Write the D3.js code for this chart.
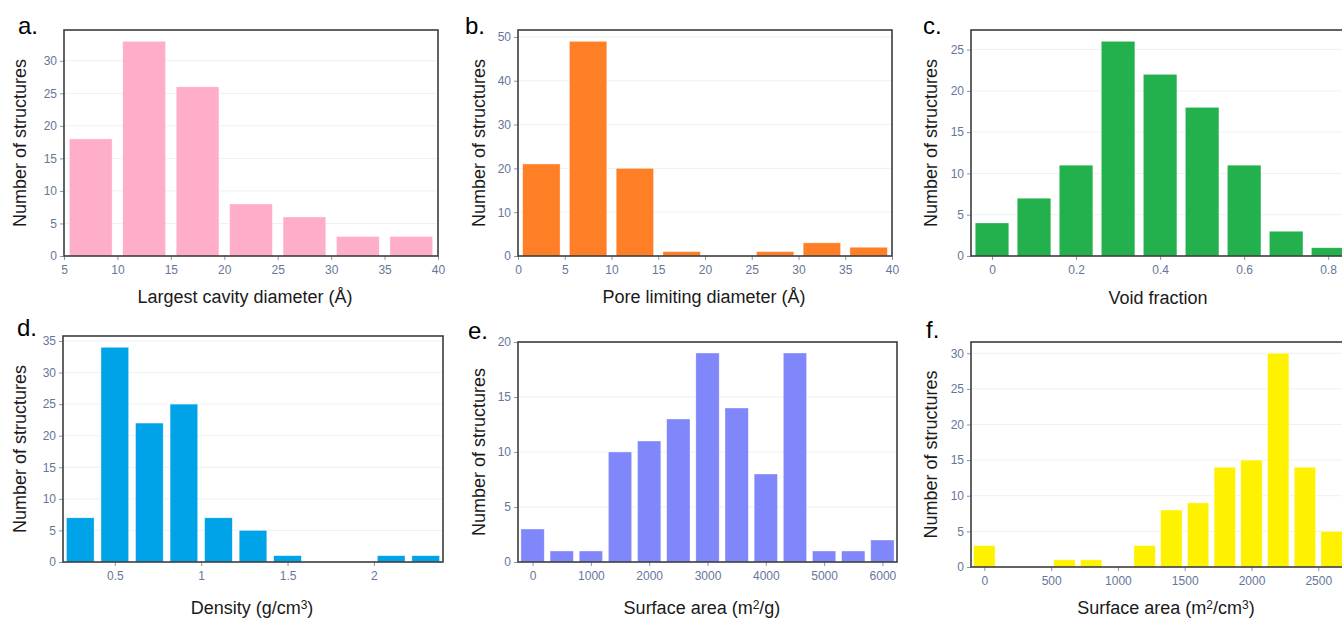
<!DOCTYPE html>
<html>
<head>
<meta charset="utf-8">
<script src="https://cdn.jsdelivr.net/npm/d3@7"></script>
<style>
  body { margin: 0; background: #fff; }
  svg { display: block; font-family: "Liberation Sans", Arial, sans-serif; }
  .tick text { fill: #66769a; font-size: 12px; }
  .tick line { stroke: #8a96aa; }
  .domain { display: none; }
</style>
</head>
<body>
<svg id="fig" width="1342" height="620"></svg>
<script>
// a. largest cavity diameter (bin width 5)
const lcdCenters = [7.5, 12.5, 17.5, 22.5, 27.5, 32.5, 37.5]
const lcdCounts = [18, 33, 26, 8, 6, 3, 3]
// b. pore limiting diameter (bin width 5)
const pldCenters = [2.5, 7.5, 12.5, 17.5, 22.5, 27.5, 32.5, 37.5]
const pldCounts = [21, 49, 20, 1, 0, 1, 3, 2]
// c. void fraction (bin width 0.1)
const vfCenters = [0, 0.1, 0.2, 0.3, 0.4, 0.5, 0.6, 0.7, 0.8]
const vfCounts = [4, 7, 11, 26, 22, 18, 11, 3, 1]
// d. density (bin width 0.2)
const densCenters = [0.3, 0.5, 0.7, 0.9, 1.1, 1.3, 1.5, 1.7, 1.9, 2.1, 2.3]
const densCounts = [7, 34, 22, 25, 7, 5, 1, 0, 0, 1, 1]
// e. gravimetric surface area (bin width 500)
const gsaCenters = [0, 500, 1000, 1500, 2000, 2500, 3000, 3500, 4000, 4500, 5000, 5500, 6000]
const gsaCounts = [3, 1, 1, 10, 11, 13, 19, 14, 8, 19, 1, 1, 2]
// f. volumetric surface area (bin width 200)
const vsaCenters = [0, 200, 400, 600, 800, 1000, 1200, 1400, 1600, 1800, 2000, 2200, 2400, 2600]
const vsaCounts = [3, 0, 0, 1, 1, 0, 3, 8, 9, 14, 15, 30, 14, 5]

const panels = [
  {label: 'a.', lx: 18, ly: 34, box: [64, 30, 438, 256], xDom: [5, 40], bin: 5,
   centers: lcdCenters, counts: lcdCounts, color: '#ffaec9',
   xTicks: [5, 10, 15, 20, 25, 30, 35, 40], yTicks: [0, 5, 10, 15, 20, 25, 30],
   xTitle: ['Largest cavity diameter (Å)'], tx: 245, ty: 303, yx: 20},
  {label: 'b.', lx: 465, ly: 34, box: [518, 30, 892, 256], xDom: [0, 40], bin: 5,
   centers: pldCenters, counts: pldCounts, color: '#ff7f27',
   xTicks: [0, 5, 10, 15, 20, 25, 30, 35, 40], yTicks: [0, 10, 20, 30, 40, 50],
   xTitle: ['Pore limiting diameter (Å)'], tx: 704, ty: 303, yx: 479},
  {label: 'c.', lx: 923, ly: 34, box: [971, 30, 1345, 256], xDom: [-0.05, 0.84], bin: 0.1,
   centers: vfCenters, counts: vfCounts, color: '#22b14c',
   xTicks: [0, 0.2, 0.4, 0.6, 0.8], yTicks: [0, 5, 10, 15, 20, 25],
   xTitle: ['Void fraction'], tx: 1158, ty: 304, yx: 931},
  {label: 'd.', lx: 17, ly: 336, box: [63, 336, 443, 562], xDom: [0.2, 2.4], bin: 0.2,
   centers: densCenters, counts: densCounts, color: '#00a2e8',
   xTicks: [0.5, 1, 1.5, 2], yTicks: [0, 5, 10, 15, 20, 25, 30, 35],
   xTitle: ['Density (g/cm', '3', ')'], tx: 252, ty: 614, yx: 20},
  {label: 'e.', lx: 468, ly: 339, box: [518, 342, 897, 562], xDom: [-250, 6250], bin: 500,
   centers: gsaCenters, counts: gsaCounts, color: '#8087fa',
   xTicks: [0, 1000, 2000, 3000, 4000, 5000, 6000], yTicks: [0, 5, 10, 15, 20],
   xTitle: ['Surface area (m', '2', '/g)'], tx: 702, ty: 614, yx: 479},
  {label: 'f.', lx: 926, ly: 338, box: [971, 342, 1345, 567], xDom: [-100, 2700], bin: 200,
   centers: vsaCenters, counts: vsaCounts, color: '#fff200',
   xTicks: [0, 500, 1000, 1500, 2000, 2500], yTicks: [0, 5, 10, 15, 20, 25, 30],
   xTitle: ['Surface area (m', '2', '/cm', '3', ')'], tx: 1166, ty: 614, yx: 931},
]

const svg = d3.select('#fig')

panels.forEach(p => {
  const [x0, y0, x1, y1] = p.box
  const x = d3.scaleLinear().domain(p.xDom).range([x0, x1])
  const y = d3.scaleLinear().domain([0, d3.max(p.counts) * 1.0526]).range([y1, y0])
  const g = svg.append('g')

  // gridlines
  g.selectAll('.grid')
    .data(p.yTicks.slice(1))
    .join('line')
      .attr('x1', x0).attr('x2', x1)
      .attr('y1', d => y(d)).attr('y2', d => y(d))
      .attr('stroke', '#eef0f3')

  // bars
  const gap = p.bin * 0.1
  g.selectAll('.bar')
    .data(p.centers.map((c, i) => [c, p.counts[i]]).filter(d => d[1] > 0))
    .join('rect')
      .attr('class', 'bar')
      .attr('x', d => x(d[0] - p.bin / 2 + gap))
      .attr('width', d => x(d[0] + p.bin / 2 - gap) - x(d[0] - p.bin / 2 + gap))
      .attr('y', d => y(d[1]))
      .attr('height', d => y1 - y(d[1]))
      .attr('fill', p.color)
      .attr('stroke', '#ffffff')
      .attr('stroke-opacity', 0.6)
      .attr('stroke-width', 0.6)

  // axes
  g.append('g')
    .attr('transform', `translate(0,${y1})`)
    .call(d3.axisBottom(x).tickValues(p.xTicks).tickSize(4).tickPadding(5).tickFormat(d => String(d)))
  g.append('g')
    .attr('transform', `translate(${x0},0)`)
    .call(d3.axisLeft(y).tickValues(p.yTicks).tickSize(4).tickPadding(3))

  // frame
  g.append('rect')
    .attr('x', x0).attr('y', y0)
    .attr('width', x1 - x0).attr('height', y1 - y0)
    .attr('fill', 'none')
    .attr('stroke', '#3c3c3c')
    .attr('stroke-width', 1.6)

  // titles
  const t = g.append('text')
    .attr('x', p.tx).attr('y', p.ty)
    .attr('text-anchor', 'middle')
    .attr('font-size', 18)
    .attr('fill', '#1a1a1a')
  p.xTitle.forEach((s, i) => {
    const sup = i % 2 === 1
    t.append('tspan')
      .attr('font-size', sup ? 12 : 18)
      .attr('baseline-shift', sup ? '45%' : null)
      .text(s)
  })

  g.append('text')
    .attr('transform', `translate(${p.yx},${(y0 + y1) / 2}) rotate(-90)`)
    .attr('dy', '0.35em')
    .attr('text-anchor', 'middle')
    .attr('font-size', 18)
    .attr('fill', '#1a1a1a')
    .text('Number of structures')

  g.append('text')
    .attr('x', p.lx).attr('y', p.ly)
    .attr('font-size', 24)
    .attr('fill', '#000')
    .text(p.label)
})
</script>
</body>
</html>
